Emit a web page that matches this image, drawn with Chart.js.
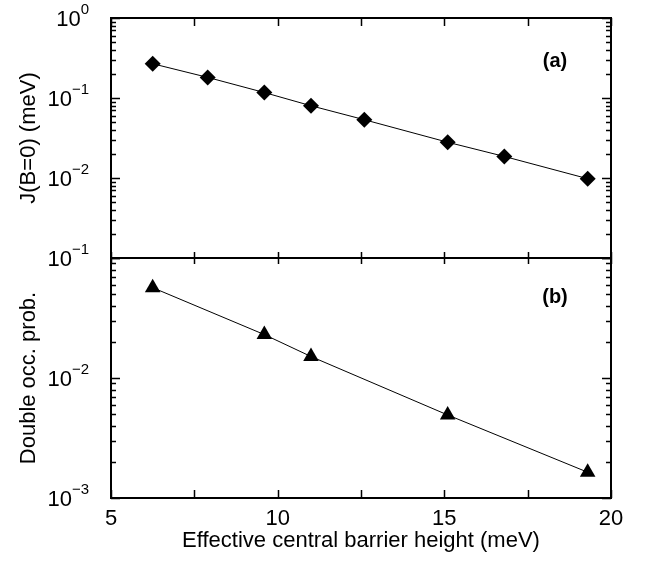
<!DOCTYPE html>
<html>
<head>
<meta charset="utf-8">
<script src="https://cdn.jsdelivr.net/npm/chart.js@4.4.0/dist/chart.umd.min.js"></script>
<style>
html, body { margin: 0; padding: 0; background: #fff; }
#wrap { width: 647px; height: 565px; }
</style>
</head>
<body>
<div id="wrap"><canvas id="barrierChart"></canvas></div>
<script>
// panel (a): exchange J(B=0) vs effective barrier height
var barrierA = [6.25, 7.9, 9.6, 11.0, 12.6, 15.1, 16.8, 19.3];
var exchangeJ = [0.268, 0.181, 0.117, 0.080, 0.0535, 0.028, 0.0186, 0.0098];
// panel (b): double occupation probability
var barrierB = [6.25, 9.6, 11.0, 15.1, 19.3];
var doubleOcc = [0.0566, 0.0230, 0.0151, 0.00492, 0.00164];

var xTicks = [5, 10, 15, 20];
var xMinorTicks = [7.5, 12.5, 17.5];
var expTicksA = [0, -1, -2];      // 10^-3 of panel (a) sits under the (b) label
var expTicksB = [-1, -2, -3];

var FONT = '"Liberation Sans", Arial, Helvetica, sans-serif';

var framePlugin = {
    id: 'framePlugin',
    afterDatasetsDraw: function (chart) {
        var ctx = chart.ctx;
        var area = chart.chartArea;
        var x = chart.scales.x;
        var panels = [
            { s: chart.scales.ya, exps: expTicksA, topLen: 8, botLen: 6, tag: '(a)', tagDy: 43 },
            { s: chart.scales.yb, exps: expTicksB, topLen: 6, botLen: 8, tag: '(b)', tagDy: 39 }
        ];
        ctx.save();
        ctx.strokeStyle = '#000';
        ctx.fillStyle = '#000';
        panels.forEach(function (p) {
            var s = p.s;
            var top = s.top, bottom = s.bottom;
            // x ticks on top and bottom edge of the panel
            ctx.lineWidth = 1.5;
            ctx.beginPath();
            xTicks.concat(xMinorTicks).forEach(function (v) {
                var px = Math.round(x.getPixelForValue(v)) + 0.5;
                ctx.moveTo(px, top); ctx.lineTo(px, top + p.topLen);
                ctx.moveTo(px, bottom); ctx.lineTo(px, bottom - p.botLen);
            });
            // y ticks, major and minor, left and right
            var lo = Math.round(Math.log10(s.min)), hi = Math.round(Math.log10(s.max));
            for (var k = lo; k <= hi; k++) {
                for (var m = 1; m <= 9; m++) {
                    var v = m * Math.pow(10, k);
                    if (v < s.min * 0.999 || v > s.max * 1.001) continue;
                    var len = m === 1 ? 9 : 5;
                    var py = Math.round(s.getPixelForValue(v)) + 0.5;
                    ctx.moveTo(area.left, py); ctx.lineTo(area.left + len, py);
                    ctx.moveTo(area.right, py); ctx.lineTo(area.right - len, py);
                }
            }
            ctx.stroke();
            // frame
            ctx.lineWidth = 2;
            ctx.strokeRect(area.left, top, area.right - area.left, bottom - top);
            // tick labels 10^n
            p.exps.forEach(function (e) {
                var py = s.getPixelForValue(Math.pow(10, e));
                var sup = e === 0 ? '0' : '\u2212' + Math.abs(e);
                ctx.font = '15px ' + FONT;
                var supW = ctx.measureText(sup).width;
                ctx.font = '22px ' + FONT;
                var baseW = ctx.measureText('10').width;
                var xr = area.left - 22;
                ctx.textAlign = 'left';
                ctx.textBaseline = 'alphabetic';
                ctx.fillText('10', xr - supW - baseW, py + 8);
                ctx.font = '15px ' + FONT;
                ctx.fillText(sup, xr - supW, py - 4);
            });
            // panel tag
            ctx.font = 'bold 20px ' + FONT;
            ctx.textAlign = 'center';
            ctx.textBaseline = 'middle';
            ctx.fillText(p.tag, area.right - 56, top + p.tagDy);
        });
        ctx.restore();
    }
};

function hiddenLogAxis(min, max, title) {
    return {
        type: 'logarithmic',
        position: 'left',
        stack: 'panels',
        stackWeight: 1,
        min: min,
        max: max,
        ticks: { display: false },
        grid: { display: false, drawTicks: false },
        border: { display: false },
        title: {
            display: true,
            text: title,
            color: '#000',
            font: { family: FONT, size: 22 },
            padding: { top: 16, bottom: 0 }
        },
        afterFit: function (scale) { scale.width = 111; }
    };
}

var ctx = document.getElementById('barrierChart').getContext('2d');
var barrierChart = new Chart(ctx, {
    type: 'line',
    data: {
        datasets: [{
            label: 'J(B=0)',
            data: barrierA.map(function (v, i) { return { x: v, y: exchangeJ[i] }; }),
            yAxisID: 'ya',
            borderColor: '#000',
            borderWidth: 1,
            pointStyle: 'rectRot',
            pointRadius: 8,
            pointBackgroundColor: '#000',
            pointBorderColor: '#000',
            pointBorderWidth: 0,
            tension: 0
        }, {
            label: 'Double occ. prob.',
            data: barrierB.map(function (v, i) { return { x: v, y: doubleOcc[i] }; }),
            yAxisID: 'yb',
            borderColor: '#000',
            borderWidth: 1,
            pointStyle: 'triangle',
            pointRadius: 9,
            pointBackgroundColor: '#000',
            pointBorderColor: '#000',
            pointBorderWidth: 0,
            tension: 0
        }]
    },
    options: {
        responsive: true,
        maintainAspectRatio: false,
        animation: false,
        devicePixelRatio: 1,
        layout: { padding: { left: 0, right: 36, top: 18, bottom: 11 } },
        scales: {
            x: {
                type: 'linear',
                position: 'bottom',
                min: 5,
                max: 20,
                afterBuildTicks: function (scale) {
                    scale.ticks = xTicks.map(function (v) { return { value: v }; });
                },
                afterFit: function (scale) { scale.height = 56; },
                ticks: {
                    color: '#000',
                    font: { family: FONT, size: 22 },
                    padding: 8,
                    maxRotation: 0
                },
                grid: { display: false, drawTicks: false },
                border: { display: false },
                title: {
                    display: true,
                    text: 'Effective central barrier height (meV)',
                    color: '#000',
                    font: { family: FONT, size: 22 },
                    padding: { top: 3, bottom: 0 }
                }
            },
            yb: hiddenLogAxis(0.001, 0.1, 'Double occ. prob.'),
            ya: hiddenLogAxis(0.001, 1, 'J(B=0) (meV)')
        },
        plugins: {
            legend: { display: false },
            tooltip: { enabled: false }
        }
    },
    plugins: [framePlugin]
});
</script>
</body>
</html>
